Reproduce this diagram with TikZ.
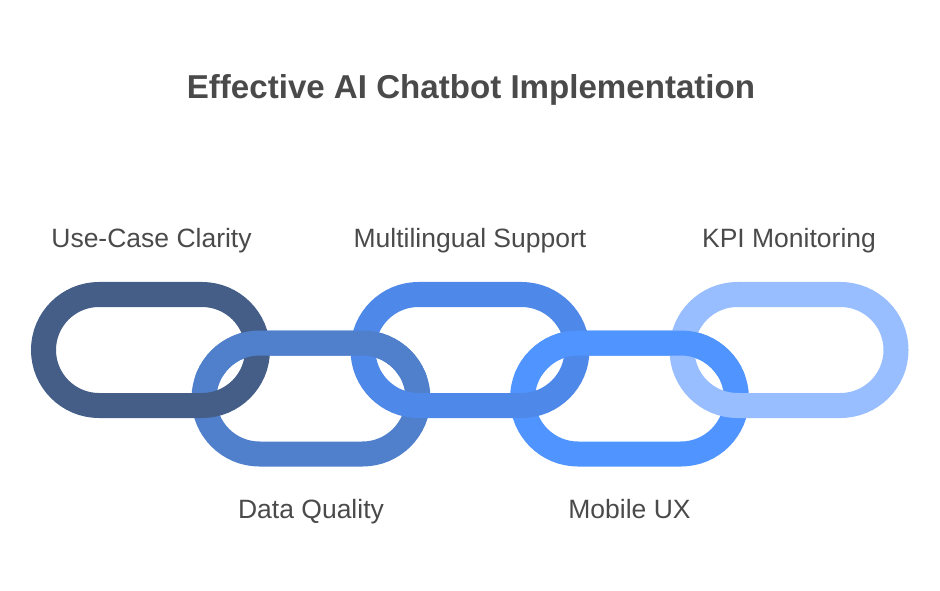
\documentclass[tikz,border=0pt]{standalone}
\usepackage{fontspec}
\setmainfont{Liberation Sans}
\usetikzlibrary{positioning}
\definecolor{linkA}{HTML}{445E88}
\definecolor{linkB}{HTML}{5080CC}
\definecolor{linkC}{HTML}{4E88E8}
\definecolor{linkD}{HTML}{5095FF}
\definecolor{linkE}{HTML}{98BEFF}
\definecolor{labelgray}{HTML}{4A4A4A}
\begin{document}
\begin{tikzpicture}[
		x=1pt,y=1pt,
		chainlink/.style={draw, line width=25pt, rectangle, rounded corners=55.5pt, minimum width=214pt, minimum height=111pt, outer sep=0pt, inner sep=0pt},
		linklabel/.style={text=labelgray, font=\fontsize{26.5}{30}\selectfont, inner sep=0pt, text height=19pt, text depth=6pt}
	]
	\useasboundingbox (0,0) rectangle (940,590);
	\node[text=labelgray, font=\fontsize{33.1}{36}\selectfont\bfseries] (title) at (471,500) {Effective AI Chatbot Implementation};
	% lower links first, upper links over them
	\foreach \linkname/\linkcol/\linkx in {dataquality/linkB/311, mobileux/linkD/629.5}
		\node[chainlink, draw=\linkcol] (\linkname) at (\linkx,191.5) {};
	\foreach \linkname/\linkcol/\linkx in {usecase/linkA/150.5, multilingual/linkC/470, kpi/linkE/789}
		\node[chainlink, draw=\linkcol] (\linkname) at (\linkx,240) {};
	% top of the lower links passes over again
	\begin{scope}
		\clip (0,215) rectangle (940,270);
		\foreach \linkname/\linkcol/\linkx in {dataqualitytop/linkB/311, mobileuxtop/linkD/629.5}
			\node[chainlink, draw=\linkcol] (\linkname) at (\linkx,191.5) {};
	\end{scope}
	\node[linklabel, above=41pt of usecase, xshift=1pt] (usecaselabel) {Use-Case Clarity};
	\node[linklabel, above=41pt of multilingual] (multilinguallabel) {Multilingual Support};
	\node[linklabel, above=41pt of kpi] (kpilabel) {KPI Monitoring};
	\node[linklabel, below=45pt of dataquality] (dataqualitylabel) {Data Quality};
	\node[linklabel, below=45pt of mobileux] (mobileuxlabel) {Mobile UX};
\end{tikzpicture}
\end{document}
